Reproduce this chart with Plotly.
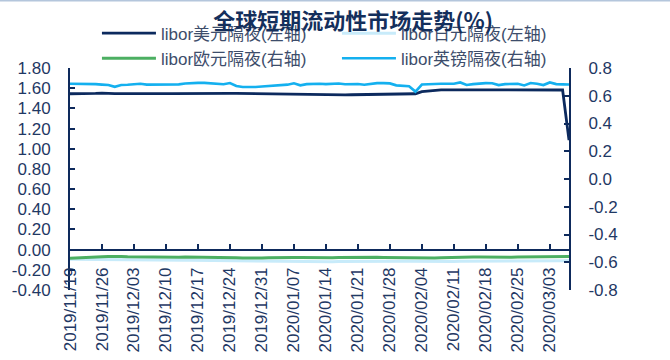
import pandas as pd
import plotly.graph_objects as go

# Trading days (weekdays) covered by the chart
dates = pd.bdate_range("2019-11-19", "2020-03-06").strftime("%Y/%m/%d").tolist()
tick_dates = dates[::5]

# Overnight LIBOR fixings (%)
usd_on = [1.545, 1.544, 1.545, 1.543, 1.548, 1.551, 1.547, 1.546, 1.547,
          1.548, 1.549, 1.549, 1.548, 1.548, 1.547, 1.547, 1.546, 1.547, 1.548, 1.548,
          1.549, 1.549, 1.548, 1.548, 1.549, 1.549, 1.548, 1.547, 1.546, 1.545, 1.543,
          1.542, 1.540, 1.537, 1.536, 1.536, 1.535, 1.535, 1.534, 1.534, 1.535, 1.535,
          1.534, 1.534, 1.535, 1.536, 1.536, 1.536, 1.535, 1.535, 1.536, 1.536, 1.537, 1.538,
          1.545, 1.566, 1.574, 1.580, 1.583, 1.584, 1.584, 1.585, 1.585, 1.584, 1.584,
          1.585, 1.585, 1.584, 1.584, 1.585, 1.585, 1.584, 1.584, 1.583,
          1.583, 1.584, 1.583, 1.582, 1.085]
jpy_on = [-0.095, -0.096, -0.097, -0.098, -0.099, -0.100, -0.100, -0.101, -0.101,
          -0.102, -0.102, -0.103, -0.103, -0.104, -0.104, -0.105, -0.105, -0.106, -0.106, -0.105,
          -0.106, -0.107, -0.108, -0.108, -0.108, -0.109, -0.110, -0.110, -0.111, -0.112, -0.113,
          -0.114, -0.115, -0.116, -0.118, -0.119, -0.120, -0.121, -0.121, -0.122, -0.121, -0.120,
          -0.118, -0.117, -0.116, -0.115, -0.114, -0.113, -0.112, -0.112, -0.113, -0.114, -0.115, -0.116,
          -0.117, -0.118, -0.118, -0.119, -0.119, -0.118, -0.117, -0.116, -0.116, -0.115, -0.115,
          -0.114, -0.114, -0.113, -0.113, -0.112, -0.112, -0.111, -0.111, -0.110,
          -0.110, -0.110, -0.109, -0.109, -0.108]
eur_on = [-0.571, -0.570, -0.568, -0.566, -0.563, -0.561, -0.559, -0.556, -0.558,
          -0.561, -0.562, -0.563, -0.563, -0.564, -0.564, -0.563, -0.564, -0.564, -0.563, -0.563,
          -0.564, -0.565, -0.564, -0.564, -0.565, -0.566, -0.568, -0.570, -0.571, -0.572, -0.570,
          -0.568, -0.566, -0.565, -0.564, -0.565, -0.566, -0.567, -0.569, -0.570, -0.569, -0.567,
          -0.566, -0.565, -0.564, -0.562, -0.561, -0.562, -0.564, -0.565, -0.566, -0.566, -0.567, -0.568,
          -0.569, -0.570, -0.570, -0.569, -0.568, -0.566, -0.565, -0.564, -0.564, -0.563, -0.563,
          -0.564, -0.564, -0.563, -0.563, -0.564, -0.563, -0.563, -0.562, -0.562,
          -0.561, -0.560, -0.560, -0.559, -0.558]
gbp_on = [0.686, 0.686, 0.686, 0.685, 0.684, 0.680, 0.677, 0.664, 0.677,
          0.679, 0.680, 0.686, 0.680, 0.680, 0.679, 0.679, 0.678, 0.682, 0.688, 0.692,
          0.693, 0.693, 0.690, 0.682, 0.683, 0.692, 0.670, 0.663, 0.662, 0.663, 0.667,
          0.670, 0.674, 0.677, 0.680, 0.690, 0.675, 0.684, 0.686, 0.687, 0.684, 0.686,
          0.688, 0.683, 0.686, 0.685, 0.679, 0.686, 0.691, 0.691, 0.689, 0.675, 0.674, 0.668,
          0.630, 0.681, 0.683, 0.686, 0.686, 0.686, 0.687, 0.696, 0.678, 0.684, 0.690,
          0.691, 0.690, 0.677, 0.684, 0.686, 0.686, 0.674, 0.692, 0.686,
          0.677, 0.696, 0.684, 0.682, 0.681]

left_tickvals = [-0.4, -0.2, 0.0, 0.2, 0.4, 0.6, 0.8, 1.0, 1.2, 1.4, 1.6, 1.8]
left_ticktext = ["-0.40", "-0.20", "0.00", "0.20", "0.40", "0.60", "0.80",
                 "1.00", "1.20", "1.40", "1.60", "1.80"]
right_tickvals = [-0.8, -0.6, -0.4, -0.2, 0.0, 0.2, 0.4, 0.6, 0.8]
right_ticktext = ["-0.8", "-0.6", "-0.4", "-0.2", "0.0", "0.2", "0.4", "0.6", "0.8"]

LEFT_RANGE = [-0.4, 1.8]
RIGHT_RANGE = [-0.8, 0.8]

NAVY = "#0e2a5c"
LABEL = "#1f3864"
FONT = "Liberation Sans, Arial, Noto Sans CJK SC"

fig = go.Figure()
fig.add_trace(go.Scatter(x=dates, y=usd_on, name="libor美元隔夜(左轴)", mode="lines",
                         line=dict(color="#0c2a5e", width=2.8), yaxis="y"))
fig.add_trace(go.Scatter(x=dates, y=jpy_on, name="libor日元隔夜(左轴)", mode="lines",
                         line=dict(color="#c8ebfa", width=3), yaxis="y"))
fig.add_trace(go.Scatter(x=dates, y=eur_on, name="libor欧元隔夜(右轴)", mode="lines",
                         line=dict(color="#4caf62", width=3), yaxis="y2"))
fig.add_trace(go.Scatter(x=dates, y=gbp_on, name="libor英镑隔夜(右轴)", mode="lines",
                         line=dict(color="#14b0ef", width=2.6), yaxis="y2"))

# x axis sits on the zero line of the left axis
zero_pos = (0 - LEFT_RANGE[0]) / (LEFT_RANGE[1] - LEFT_RANGE[0])

fig.update_layout(
    width=670, height=360,
    margin=dict(l=70, r=101, t=68, b=70, autoexpand=False),
    paper_bgcolor="white", plot_bgcolor="white",
    font=dict(family=FONT, color=LABEL),
    title=dict(text="<b>全球短期流动性市场走势(%)</b>", x=0.527, xanchor="center",
               y=1 - 21 / 360, yanchor="middle", yref="container",
               font=dict(family="Noto Sans CJK SC", size=22, color="#142f5c")),
    showlegend=True,
    legend=dict(orientation="h", x=0.054, xanchor="left", y=1.236, yanchor="top",
                font=dict(family=FONT, size=17, color="#3d4d6b"),
                itemwidth=54, entrywidth=171, entrywidthmode="pixels",
                bgcolor="rgba(0,0,0,0)", tracegroupgap=0),
    xaxis=dict(type="category", range=[0, len(dates) - 1],
               tickmode="array", tickvals=tick_dates, ticktext=tick_dates,
               tickangle=-90, ticks="inside", ticklen=5, tickwidth=1.5, tickcolor=NAVY,
               showline=True, linecolor=NAVY, linewidth=2, showgrid=False, zeroline=False,
               anchor="free", position=zero_pos, ticklabelstandoff=10,
               tickfont=dict(size=17, color=LABEL), automargin=False),
    yaxis=dict(range=LEFT_RANGE, tickmode="array", tickvals=left_tickvals,
               ticktext=left_ticktext, ticks="inside", ticklen=5, tickwidth=1.5,
               tickcolor=NAVY, showline=True, linecolor=NAVY, linewidth=2,
               showgrid=False, zeroline=False, ticklabelstandoff=14,
               tickfont=dict(size=17, color=LABEL), automargin=False),
    yaxis2=dict(range=RIGHT_RANGE, overlaying="y", side="right", anchor="x",
                tickmode="array", tickvals=right_tickvals, ticktext=right_ticktext,
                ticks="inside", ticklen=5, tickwidth=1.5, tickcolor=NAVY,
                showline=True, linecolor=NAVY, linewidth=2, showgrid=False,
                zeroline=False, ticklabelstandoff=14,
                tickfont=dict(size=17, color=LABEL), automargin=False),
    shapes=[dict(type="line", xref="paper", yref="paper",
                 x0=-70 / 499, x1=600 / 499, y0=(290 - 0.8) / 222, y1=(290 - 0.8) / 222,
                 line=dict(color="#b4c6dc", width=1.6))],
)

fig.write_html("out.html")
